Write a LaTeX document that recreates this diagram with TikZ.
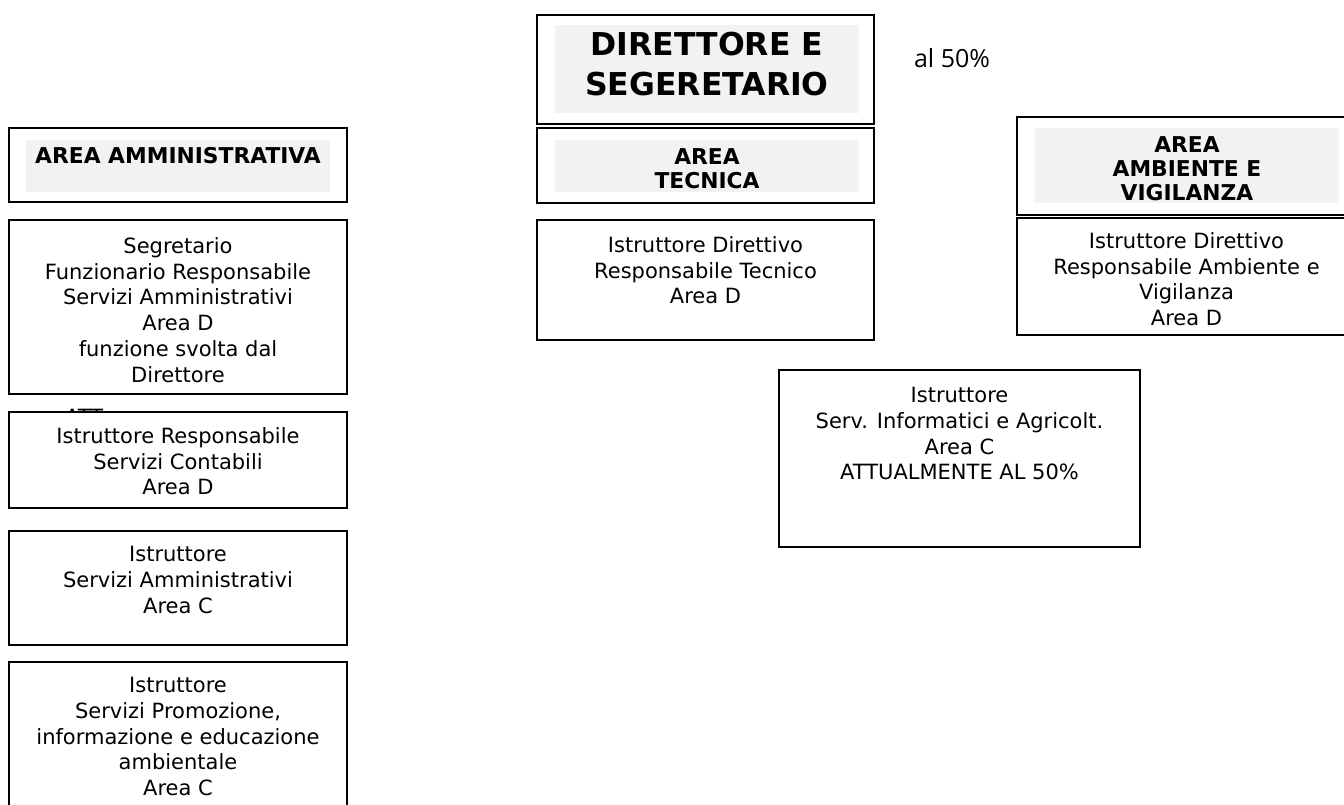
\documentclass[tikz,border=0pt]{standalone}
\usepackage{fontspec}
\setmainfont{DejaVu Sans}
\newfontfamily\notefont{Open Sans}
\usetikzlibrary{positioning}
\definecolor{headgray}{HTML}{F2F2F2}
\tikzset{
  post/.style={draw, line width=1.9pt, fill=white, inner sep=0pt},
  band/.style={fill=headgray, inner sep=0pt},
  duty/.style={font=\fontsize{21}{25.8}\selectfont, align=center, inner sep=0pt, anchor=north},
  title/.style={font=\fontsize{21.8}{24}\selectfont\bfseries, align=center, inner sep=0pt, anchor=north}
}
\begin{document}
\begin{tikzpicture}[x=1pt,y=-1pt]

        \clip (0,0) rectangle (1344,805);
        \fill [white] (0,0) rectangle (1344,805);

        % direzione
        \node [post, minimum width=337pt, minimum height=109pt] (dir) at (705.5,69.5) {};
        \node [band, minimum width=304pt, minimum height=88pt] (dirband) at (707,69) {};
        \node [title, font=\fontsize{31.5}{40}\selectfont\bfseries, below=7pt of dirband.north] (dirtext) {DIRETTORE E\\SEGERETARIO};
        \node [font=\notefont\fontsize{25}{30}\selectfont, inner sep=0pt] (quota) at (952,58) {al 50\%};

        % area amministrativa
        \node [post, minimum width=338pt, minimum height=74pt] (ammhead) at (178,165) {};
        \node [band, minimum width=304pt, minimum height=52pt] (ammband) at (178,166) {};
        \node [title, below=7pt of ammband.north] (ammtitle) {AREA AMMINISTRATIVA};

        \node [post, minimum width=338pt, minimum height=174pt] (seg) at (178,307) {};
        \node [duty, below=18pt of seg.north] (segtext) {Segretario\\Funzionario Responsabile\\Servizi Amministrativi\\Area D\\funzione svolta dal\\Direttore};

        \node [duty, anchor=north west] (attfrag) at (65,409) {ATT};
        \node [post, minimum width=338pt, minimum height=96pt] (cont) at (178,460) {};
        \node [duty, below=16pt of cont.north] (conttext) {Istruttore Responsabile\\Servizi Contabili\\Area D};

        \node [post, minimum width=338pt, minimum height=114pt] (istr) at (178,588) {};
        \node [duty, below=16pt of istr.north] (istrtext) {Istruttore\\Servizi Amministrativi\\Area C};

        \node [post, minimum width=338pt, minimum height=168pt] (promo) at (178,746) {};
        \node [duty, below=16pt of promo.north] (promotext) {Istruttore\\Servizi Promozione,\\informazione e educazione\\ambientale\\Area C};

        % area tecnica
        \node [post, minimum width=337pt, minimum height=75pt] (techead) at (705.5,165.5) {};
        \node [band, minimum width=304pt, minimum height=52pt] (tecband) at (707,166) {};
        \node [title, below=9pt of tecband.north] (tectitle) {AREA\\TECNICA};

        \node [post, minimum width=337pt, minimum height=120pt] (tec) at (705.5,280) {};
        \node [duty, below=17pt of tec.north] (tectext) {Istruttore Direttivo\\Responsabile Tecnico\\Area D};

        \node [post, minimum width=361pt, minimum height=177pt] (info) at (959.5,458.5) {};
        \node [duty, below=18pt of info.north] (infotext) {Istruttore\\Serv. Informatici e Agricolt.\hspace*{24pt}\\Area C\\ATTUALMENTE AL 50\%};

        % area ambiente e vigilanza
        \node [post, minimum width=339pt, minimum height=98pt] (ambhead) at (1186.5,166) {};
        \node [band, minimum width=304pt, minimum height=75pt] (ambband) at (1187,165.5) {};
        \node [title, below=9pt of ambband.north] (ambtitle) {AREA\\AMBIENTE E\\VIGILANZA};

        \node [post, minimum width=339pt, minimum height=117pt] (amb) at (1186.5,276.5) {};
        \node [duty, below=15pt of amb.north] (ambtext) {Istruttore Direttivo\\Responsabile Ambiente e\\Vigilanza\\Area D};

    \end{tikzpicture}
\end{document}
